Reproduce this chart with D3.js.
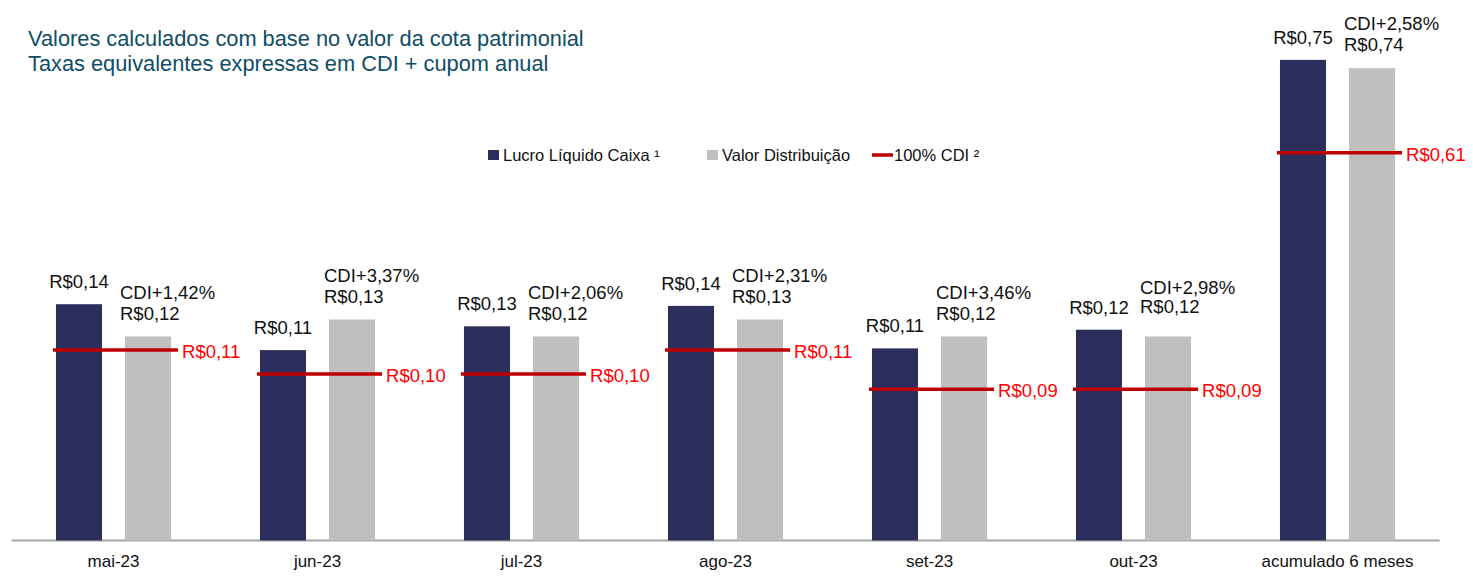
<!doctype html>
<html>
    <head>
        <meta charset="utf-8">
        <script src="https://cdnjs.cloudflare.com/ajax/libs/d3/7.8.5/d3.min.js"></script>
        <style>
            html, body {
                margin: 0;
                padding: 0;
                background: #ffffff;
            }
            #viz {
                position: absolute;
                top: 0px;
                left: 0px;
                width: 1473px;
                height: 577px;
            }
            text {
                font-family: "Liberation Sans", Arial, sans-serif;
            }
        </style>
    </head>
    <body>
        <div id="viz"></div>
        <script>
            // data
            var categories = ["mai-23", "jun-23", "jul-23", "ago-23", "set-23", "out-23", "acumulado 6 meses"];
            var lucroLiquido = [0.139, 0.112, 0.126, 0.138, 0.113, 0.124, 0.751];
            var valorDistribuicao = [0.120, 0.130, 0.120, 0.130, 0.120, 0.120, 0.738];
            var cdi100 = [0.112, 0.098, 0.098, 0.112, 0.089, 0.089, 0.606];
            var spreadCdi = ["1,42%", "3,37%", "2,06%", "2,31%", "3,46%", "2,98%", "2,58%"];
            var titleLines = ["Valores calculados com base no valor da cota patrimonial", "Taxas equivalentes expressas em CDI + cupom anual"];
            var legendItems = ["Lucro Líquido Caixa ¹", "Valor Distribuição", "100% CDI ²"];

            var colors = {
                lucro: "#2c2f5b",
                dist: "#bfbfbf",
                line: "#c00000",
                lineText: "#ff0000",
                title: "#0f4d66",
                axis: "#a6a6a6"
            };

            var W = 1473, H = 577;
            var baseY = 540.5;

            var fmt = function (v) {
                return "R$" + d3.format(".2f")(v).replace(".", ",");
            };

            var data = categories.map(function (c, i) {
                return {
                    cat: c,
                    lucro: lucroLiquido[i],
                    dist: valorDistribuicao[i],
                    cdi: cdi100[i],
                    spread: spreadCdi[i],
                    acc: i === categories.length - 1
                };
            });

            var svg = d3.select("#viz").append("svg")
                .attr("width", W)
                .attr("height", H);

            var x = d3.scaleBand()
                .domain(categories)
                .range([11.5, 1439.5])
                .paddingInner(0.436)
                .paddingOuter(0.218);

            var xs = d3.scaleBand()
                .domain(["lucro", "dist"])
                .range([0, x.bandwidth()])
                .paddingInner(0.333);

            // monthly values and the 6 month total use their own scales
            var yMonth = d3.scaleLinear().domain([0, 0.3]).range([baseY, baseY - 510]);
            var yAcc = d3.scaleLinear().domain([0, 0.8]).range([baseY, baseY - 512]);
            var yFor = function (d) { return d.acc ? yAcc : yMonth; };

            // title
            svg.selectAll("text.title")
                .data(titleLines)
                .enter()
                .append("text")
                    .attr("class", "title")
                    .attr("x", 28)
                    .attr("y", function (d, i) { return 46 + i * 25; })
                    .attr("fill", colors.title)
                    .attr("font-size", 21.8)
                    .text(function (d) { return d; });

            // axis line + labels
            var xAxis = d3.axisBottom(x).tickSize(0).tickPadding(14);
            var gx = svg.append("g")
                .attr("transform", "translate(0," + baseY + ")")
                .call(xAxis);
            gx.select(".domain")
                .attr("stroke", colors.axis)
                .attr("stroke-width", 2)
                .attr("d", "M" + x.range()[0] + ",0H" + x.range()[1]);
            gx.selectAll(".tick text")
                .attr("font-family", "Liberation Sans, Arial, sans-serif")
                .attr("font-size", 17)
                .attr("fill", "#111");

            var groups = svg.selectAll("g.cat")
                .data(data)
                .enter()
                .append("g")
                    .attr("class", "cat")
                    .attr("transform", function (d) { return "translate(" + x(d.cat) + ",0)"; });

            groups.append("rect")
                .attr("x", xs("lucro"))
                .attr("y", function (d) { return yFor(d)(d.lucro); })
                .attr("width", xs.bandwidth())
                .attr("height", function (d) { return baseY - yFor(d)(d.lucro); })
                .attr("fill", colors.lucro);

            groups.append("rect")
                .attr("x", xs("dist"))
                .attr("y", function (d) { return yFor(d)(d.dist); })
                .attr("width", xs.bandwidth())
                .attr("height", function (d) { return baseY - yFor(d)(d.dist); })
                .attr("fill", colors.dist);

            // 100% CDI reference line
            groups.append("line")
                .attr("x1", -3)
                .attr("x2", x.bandwidth() + 7)
                .attr("y1", function (d) { return yFor(d)(d.cdi); })
                .attr("y2", function (d) { return yFor(d)(d.cdi); })
                .attr("stroke", colors.line)
                .attr("stroke-width", 3.5);

            groups.append("text")
                .attr("x", x.bandwidth() + 11)
                .attr("y", function (d) { return yFor(d)(d.cdi) + 8; })
                .attr("fill", colors.lineText)
                .attr("font-size", 18.5)
                .text(function (d) { return fmt(d.cdi); });

            // value labels
            groups.append("text")
                .attr("x", xs("lucro") + xs.bandwidth() / 2)
                .attr("y", function (d) { return yFor(d)(d.lucro) - 16; })
                .attr("text-anchor", "middle")
                .attr("fill", "#111")
                .attr("font-size", 18.5)
                .text(function (d) { return fmt(d.lucro); });

            // out-23 labels sit a bit higher and tighter in the original
            groups.append("text")
                .attr("x", xs("dist") - 5)
                .attr("y", function (d, i) { return yFor(d)(d.dist) - (i === 5 ? 24 : 17); })
                .attr("fill", "#111")
                .attr("font-size", 18.5)
                .text(function (d) { return fmt(d.dist); });

            groups.append("text")
                .attr("x", xs("dist") - 5)
                .attr("y", function (d, i) { return yFor(d)(d.dist) - (i === 5 ? 43 : 38); })
                .attr("fill", "#111")
                .attr("font-size", 18.5)
                .text(function (d) { return "CDI+" + d.spread; });

            // legend
            var legend = svg.append("g").attr("transform", "translate(488,155)");
            var legX = [0, 219, 384];
            var leg = legend.selectAll("g")
                .data(legendItems)
                .enter()
                .append("g")
                    .attr("transform", function (d, i) { return "translate(" + legX[i] + ",0)"; });

            leg.each(function (d, i) {
                var g = d3.select(this);
                if (i < 2) {
                    g.append("rect")
                        .attr("x", 0)
                        .attr("y", -5)
                        .attr("width", 11)
                        .attr("height", 10)
                        .attr("fill", i === 0 ? colors.lucro : colors.dist);
                } else {
                    g.append("line")
                        .attr("x1", 0)
                        .attr("x2", 21)
                        .attr("y1", 0)
                        .attr("y2", 0)
                        .attr("stroke", colors.line)
                        .attr("stroke-width", 3.5);
                }
                g.append("text")
                    .attr("x", i < 2 ? 15 : 22)
                    .attr("y", 6)
                    .attr("font-size", 16.5)
                    .attr("fill", "#111")
                    .text(d);
            });
        </script>
    </body>
</html>
